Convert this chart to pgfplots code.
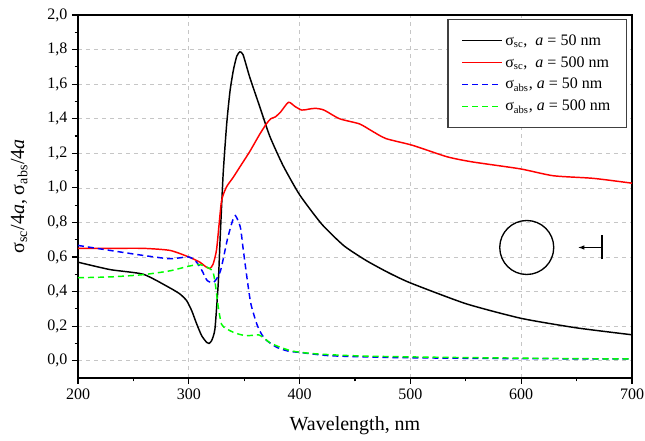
\documentclass[border=0pt]{standalone}
\usepackage{pgfplots}
\pgfplotsset{compat=1.18}
\usepackage{fontspec}
\setmainfont{Liberation Serif}
\usetikzlibrary{arrows.meta}

\begin{document}
\begin{tikzpicture}
    \begin{axis}[
            scale only axis,
            width=415.5pt,
            height=272.25pt,
            xmin=200, xmax=700,
            ymin=-0.1, ymax=2.0,
            xtick={200,300,...,700},
            ytick={0,0.2,...,2.0},
            minor x tick num=1,
            minor y tick num=1,
            tick pos=left,
            tick align=outside,
            major tick length=4.5pt,
            minor tick length=2.5pt,
            every tick/.style={black, line width=0.9pt},
            axis line style={line width=1pt},
            grid=major,
            major grid style={dashed, gray!45, line width=0.5pt},
            /pgf/number format/assume math mode=true,
            yticklabel style={/pgf/number format/.cd, use comma, fixed, fixed zerofill, precision=1},
            xticklabel style={/pgf/number format/.cd, fixed, precision=0},
            tick label style={font=\fontsize{12}{14}\selectfont},
            xlabel={Wavelength, nm},
            ylabel={σ\textsubscript{sc}/4\textit{a}, σ\textsubscript{abs}/4\textit{a}},
            label style={font=\fontsize{15}{17}\selectfont},
            xlabel style={yshift=-6pt},
            ylabel style={yshift=8pt},
            legend style={
                    at={(rel axis cs:0.991,0.989)},
                    anchor=north east,
                    draw=black!75,
                    line width=1.1pt,
                    font=\fontsize{12}{14}\selectfont,
                    row sep=3pt,
                    inner xsep=10pt,
                    inner ysep=9pt,
                    cells={anchor=west},
                },
            legend image code/.code={
                    \draw[#1, line width=1.1pt] (0cm,0cm) -- (1.05cm,0cm);
                },
        ]

        % sigma_sc, a = 50 nm
        \addplot[color=black, line width=1.1pt, smooth, tension=0.35] coordinates {
                (200,0.57) (229,0.527) (259,0.50) (283,0.421) (292,0.386)
                (298,0.348) (302.6,0.29) (307.1,0.213) (311.6,0.145) (316.1,0.106)
                (318.2,0.10) (320.6,0.116) (323.6,0.184) (326.6,0.45) (328.2,0.696)
                (331,1.08) (334.2,1.37) (337.2,1.56) (340.2,1.68) (343.2,1.76)
                (346,1.787) (349,1.77) (355,1.64) (364,1.47) (373,1.30)
                (385,1.13) (400,0.96) (420,0.79) (440,0.665) (460,0.58)
                (480,0.51) (500,0.45) (550,0.33) (600,0.245) (650,0.19)
                (700,0.15)
            };
        \addlegendentry{σ\textsubscript{sc}, \ \textit{a} = 50 nm}

        % sigma_sc, a = 500 nm
        \addplot[color=red, line width=1.1pt, smooth, tension=0.4] coordinates {
                (200,0.65) (230,0.65) (259,0.65) (283,0.638) (300,0.60)
                (310,0.57) (315,0.545) (319,0.533) (322,0.56) (325,0.64)
                (327.5,0.80) (329.7,0.93) (334,1.005) (340,1.06) (346,1.12)
                (355,1.21) (364,1.31) (370,1.37) (374,1.40) (378,1.41)
                (383,1.44) (390,1.495) (396,1.47) (402,1.45) (408,1.455)
                (414,1.46) (422,1.45) (436,1.40) (454,1.37) (465,1.33)
                (478,1.285) (502,1.246) (533,1.18) (556,1.15) (599,1.11)
                (629,1.07) (665,1.055) (700,1.027)
            };
        \addlegendentry{σ\textsubscript{sc}, \ \textit{a} = 500 nm}

        % sigma_abs, a = 50 nm
        \addplot[color=blue, line width=1.1pt, dash pattern=on 4.5pt off 3pt, smooth, tension=0.4] coordinates {
                (200,0.667) (229,0.638) (259,0.609) (283,0.59) (300,0.60)
                (307,0.57) (312,0.52) (316.6,0.464) (322.6,0.454) (328.6,0.52)
                (334.6,0.696) (339,0.80) (342,0.84) (346.5,0.773) (349,0.65)
                (352.5,0.48) (356,0.33) (361.5,0.21) (366,0.15) (370.5,0.116)
                (379.5,0.077) (390,0.055) (400,0.048) (427,0.029) (472,0.02)
                (500,0.017) (550,0.014) (600,0.012) (650,0.011) (700,0.01)
            };
        \addlegendentry{σ\textsubscript{abs}, \textit{a} = 50 nm}

        % sigma_abs, a = 500 nm
        \addplot[color=green, line width=1.1pt, dash pattern=on 4.5pt off 3pt, smooth, tension=0.4] coordinates {
                (200,0.48) (230,0.485) (259,0.498) (283,0.52) (300,0.547)
                (310,0.556) (319,0.533) (322,0.51) (324,0.44) (326.6,0.31)
                (329.6,0.21) (334,0.185) (340,0.165) (346,0.152) (352,0.145)
                (358,0.147) (363,0.15) (367,0.135) (373,0.105) (379,0.087)
                (386,0.07) (394,0.055) (410,0.042) (430,0.034) (448,0.029)
                (472,0.025) (500,0.022) (550,0.018) (600,0.015) (650,0.012)
                (700,0.01)
            };
        \addlegendentry{σ\textsubscript{abs}, \textit{a} = 500 nm}

        % sketch of the particle and incident wave
        \draw[black, line width=1pt] (axis cs:605,0.655) circle [radius=20.25pt];
        \draw[black, line width=1pt, -{Latex[length=5pt,width=3.5pt]}] (axis cs:673,0.655) -- (axis cs:651,0.655);
        \draw[black, line width=1.1pt] ([yshift=-9pt]axis cs:673,0.655) -- ([yshift=9pt]axis cs:673,0.655);
    \end{axis}
    \pgfresetboundingbox
    \path[use as bounding box] (-58.5pt,-47.25pt) rectangle (425.25pt,283.5pt);
\end{tikzpicture}
\end{document}
